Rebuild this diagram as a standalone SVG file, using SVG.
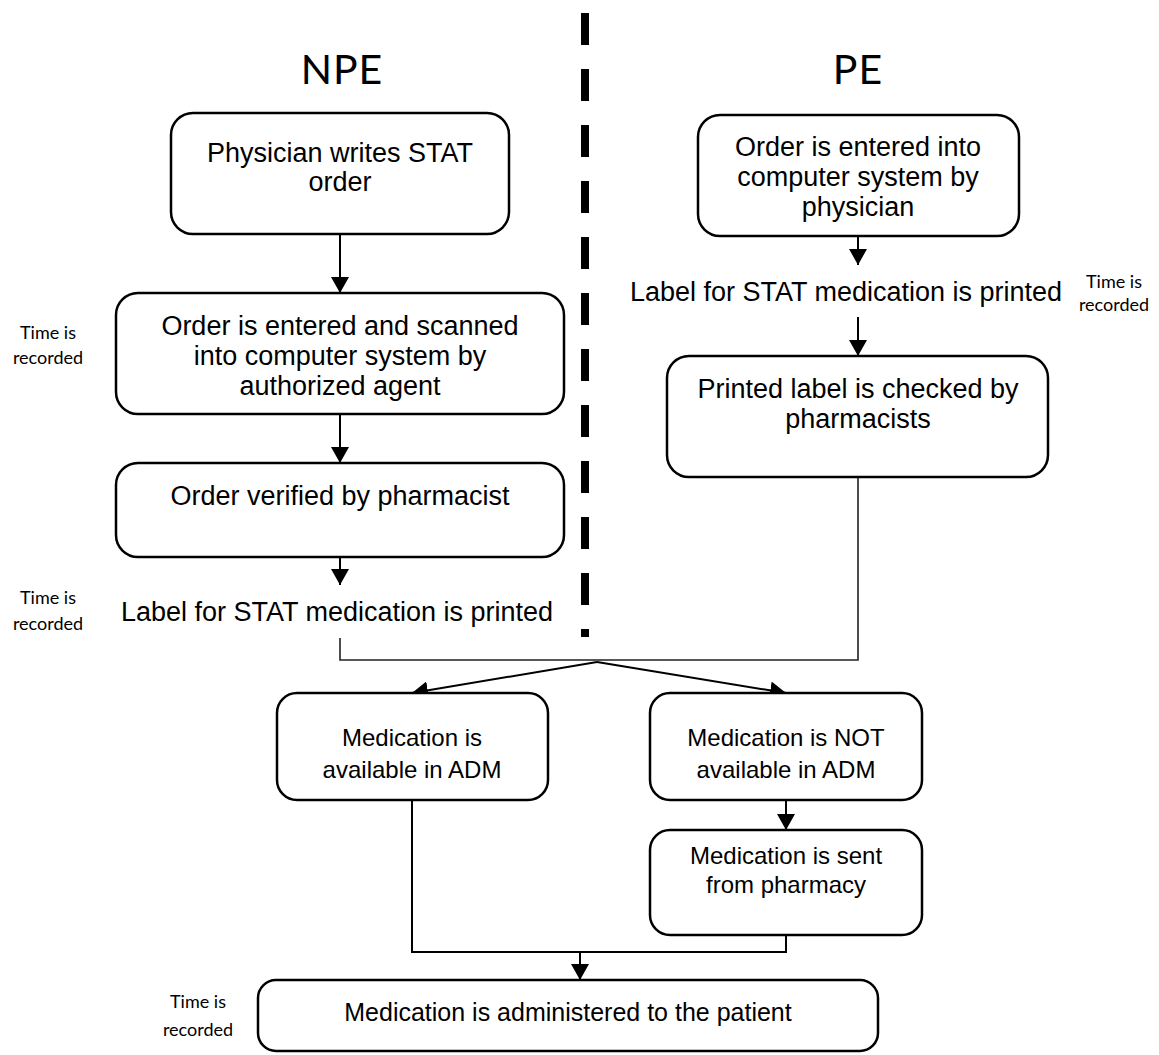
<svg xmlns="http://www.w3.org/2000/svg" width="1159" height="1055" viewBox="0 0 1159 1055">
<style>
.box{fill:#fff;stroke:#000;stroke-width:2.5}
.t{font-family:"Liberation Sans",Arial,sans-serif;font-size:27px;text-anchor:middle;fill:#000}
.b{font-family:"Liberation Sans",Arial,sans-serif;font-size:25px;text-anchor:middle;fill:#000}
.s{font-family:"Liberation Sans",Arial,sans-serif;font-size:24px;text-anchor:middle;fill:#000}
.n{font-family:Lato,"Open Sans",sans-serif;font-size:18px;text-anchor:middle;fill:#000}
.h{font-family:Lato,"Open Sans",sans-serif;font-size:41px;text-anchor:middle;fill:#000;letter-spacing:1px}
.c{fill:none;stroke:#000;stroke-width:2}
.m{fill:none;stroke:#222;stroke-width:1.6}
</style>
<defs>
<marker id="ah" markerUnits="userSpaceOnUse" markerWidth="16" markerHeight="18" viewBox="0 0 16 18" refX="16" refY="9" orient="auto">
<path d="M0,0 L16,9 L0,18 Z" fill="#000"/>
</marker>
</defs>
<rect width="1159" height="1055" fill="#fff"/>
<line x1="585" y1="13" x2="585" y2="637" stroke="#000" stroke-width="8" stroke-dasharray="32 24"/>
<text class="h" x="342" y="84">NPE</text>
<text class="h" x="858" y="84">PE</text>

<g id="connectors">
<line class="c" x1="340" y1="234" x2="340" y2="293" marker-end="url(#ah)"/>
<line class="c" x1="340" y1="414" x2="340" y2="463" marker-end="url(#ah)"/>
<line class="c" x1="340" y1="557" x2="340" y2="585" marker-end="url(#ah)"/>
<line class="c" x1="858" y1="236" x2="858" y2="265" marker-end="url(#ah)"/>
<line class="c" x1="858" y1="317" x2="858" y2="356" marker-end="url(#ah)"/>
<polyline class="m" points="340,638 340,660 858,660 858,477"/>
<line class="c" x1="597" y1="662" x2="412" y2="693" marker-end="url(#ah)"/>
<line class="c" x1="597" y1="662" x2="786" y2="693" marker-end="url(#ah)"/>
<line class="c" x1="786" y1="800" x2="786" y2="830" marker-end="url(#ah)"/>
<polyline class="c" points="412,800 412,952 786,952 786,935"/>
<line class="c" x1="580" y1="952" x2="580" y2="980" marker-end="url(#ah)"/>
</g>

<g id="n1"><rect class="box" x="171" y="113" width="338" height="121" rx="22"/>
<text class="t" x="340" y="162">Physician writes STAT</text><text class="t" x="340" y="191">order</text></g>
<g id="n2"><rect class="box" x="116" y="293" width="448" height="121" rx="22"/>
<text class="t" x="340" y="335">Order is entered and scanned</text><text class="t" x="340" y="365">into computer system by</text><text class="t" x="340" y="395">authorized agent</text></g>
<g id="n3"><rect class="box" x="116" y="463" width="448" height="94" rx="22"/>
<text class="t" x="340" y="505">Order verified by pharmacist</text></g>
<g id="n4"><text class="t" x="337" y="621">Label for STAT medication is printed</text></g>
<g id="t1"><text class="n" x="48" y="339">Time is</text><text class="n" x="48" y="364">recorded</text></g>
<g id="t2"><text class="n" x="48" y="604">Time is</text><text class="n" x="48" y="630">recorded</text></g>

<g id="p1"><rect class="box" x="698" y="115" width="321" height="121" rx="22"/>
<text class="t" x="858" y="156">Order is entered into</text><text class="t" x="858" y="186">computer system by</text><text class="t" x="858" y="216">physician</text></g>
<g id="p2"><text class="t" x="846" y="301">Label for STAT medication is printed</text></g>
<g id="t3"><text class="n" x="1114" y="288">Time is</text><text class="n" x="1114" y="311">recorded</text></g>
<g id="p3"><rect class="box" x="667" y="356" width="381" height="121" rx="22"/>
<text class="t" x="858" y="398">Printed label is checked by</text><text class="t" x="858" y="428">pharmacists</text></g>

<g id="m1"><rect class="box" x="277" y="693" width="271" height="107" rx="20"/>
<text class="s" x="412" y="746">Medication is</text><text class="s" x="412" y="778">available in ADM</text></g>
<g id="m2"><rect class="box" x="650" y="693" width="272" height="107" rx="20"/>
<text class="s" x="786" y="746">Medication is NOT</text><text class="s" x="786" y="778">available in ADM</text></g>
<g id="m3"><rect class="box" x="650" y="830" width="272" height="105" rx="20"/>
<text class="s" x="786" y="864">Medication is sent</text><text class="s" x="786" y="893">from pharmacy</text></g>
<g id="m4"><rect class="box" x="258" y="980" width="620" height="71" rx="18"/>
<text class="b" x="568" y="1021">Medication is administered to the patient</text></g>
<g id="t4"><text class="n" x="198" y="1008">Time is</text><text class="n" x="198" y="1036">recorded</text></g>
</svg>
